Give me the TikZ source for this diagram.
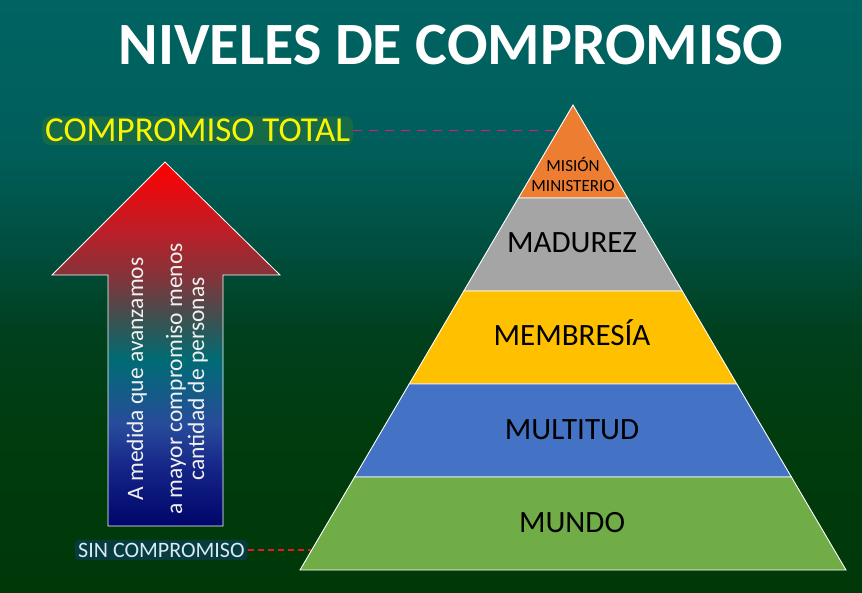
\documentclass[tikz,border=0pt]{standalone}
\usepackage{fontspec}
\setmainfont{Carlito}
\usetikzlibrary{calc}
\definecolor{bgtop}{RGB}{0,100,98}
\definecolor{bgup}{RGB}{0,94,90}
\definecolor{bgmid}{RGB}{0,78,62}
\definecolor{bglow}{RGB}{0,64,30}
\definecolor{bgb2}{RGB}{0,60,14}
\definecolor{bgbot}{RGB}{0,56,8}
\definecolor{lorange}{RGB}{237,125,49}
\definecolor{lgray}{RGB}{165,165,165}
\definecolor{lyel}{RGB}{255,192,0}
\definecolor{lblue}{RGB}{68,114,196}
\definecolor{lgreen}{RGB}{112,173,71}
\definecolor{ared}{RGB}{255,0,0}
\definecolor{ared2}{RGB}{190,30,40}
\definecolor{amaroon}{RGB}{130,52,58}
\definecolor{aslate}{RGB}{50,85,85}
\definecolor{ateal}{RGB}{0,108,116}
\definecolor{ablue}{RGB}{40,75,155}
\definecolor{ablue2}{RGB}{20,35,135}
\definecolor{anavy}{RGB}{0,5,105}
\definecolor{tyel}{RGB}{250,245,0}
\definecolor{tglow}{RGB}{110,150,0}
\definecolor{sglow}{RGB}{10,60,80}
\definecolor{stxt}{RGB}{215,235,245}
\definecolor{lmag}{RGB}{225,20,130}
\definecolor{lred}{RGB}{220,30,40}
\pgfdeclareverticalshading{bggrad}{100bp}{color(0bp)=(bgbot); color(25bp)=(bgbot); color(38.7bp)=(bgb2); color(47.2bp)=(bglow); color(53.9bp)=(bgmid); color(62.4bp)=(bgup); color(75bp)=(bgtop); color(100bp)=(bgtop)}
\pgfdeclareverticalshading{risegrad}{100bp}{color(0bp)=(anavy); color(25bp)=(anavy); color(32.7bp)=(ablue2); color(38.9bp)=(ablue); color(47.8bp)=(ateal); color(52.6bp)=(aslate); color(59.1bp)=(amaroon); color(65.7bp)=(ared2); color(75bp)=(ared); color(100bp)=(ared)}
\tikzset{
  lvl/.style={fill=#1,draw=white,line width=0.9pt},
  lvltxt/.style={font=\fontsize{31}{36}\selectfont,text=black,anchor=base,inner sep=0pt},
  arrtxt/.style={rotate=90,anchor=base,font=\fontsize{23.5}{28}\selectfont,text=white!94!black,inner sep=0pt},
  lead/.style={dash pattern=on 9pt off 7pt,line width=1.4pt,draw=#1},
}

\begin{document}
\begin{tikzpicture}[x=1pt,y=-1pt]
 \useasboundingbox (0,0) rectangle (862,593);
 \shade[shading=bggrad] (0,0) rectangle (862,593);
 \node[font=\fontsize{60}{66}\selectfont\bfseries,text=white,anchor=base] (title) at (451,65) {NIVELES DE COMPROMISO};
 % pyramid, apex (573,105)
 \foreach \col/\ya/\yb in {lorange/105/198,lgray/198/291,lyel/291/384,lblue/384/477,lgreen/477/570}
  \draw[lvl=\col] ({573-0.5871*(\ya-105)},\ya) -- ({573+0.5871*(\ya-105)},\ya) -- ({573+0.5871*(\yb-105)},\yb) -- ({573-0.5871*(\yb-105)},\yb) -- cycle;
 \node[lvltxt,font=\fontsize{17}{20}\selectfont,align=center] (mis) at (573,192) {MISIÓN\\MINISTERIO};
 \node[lvltxt] (mad) at (572,253) {MADUREZ};
 \node[lvltxt] (mem) at (572,346) {MEMBRESÍA};
 \node[lvltxt] (mul) at (572,439) {MULTITUD};
 \node[lvltxt] (mun) at (572,532) {MUNDO};
 \coordinate (topedge) at (558,131);
 \coordinate (botedge) at (311,549);
 % side labels
 \node[anchor=base west,font=\fontsize{35}{40}\selectfont,text=tyel,fill=tglow,fill opacity=0.2,text opacity=1,rounded corners=8pt,inner sep=3pt] (tot) at (42,142) {COMPROMISO TOTAL};
 \node[anchor=base west,font=\fontsize{22}{26}\selectfont,text=stxt,fill=sglow,fill opacity=0.75,text opacity=1,rounded corners=4pt,inner sep=3pt] (sin) at (75,557) {SIN COMPROMISO};
 \draw[lead=lmag] (tot.east) -- (tot.east -| topedge);
 \draw[lead=lred,dash pattern=on 6pt off 4pt] (sin.east) -- (sin.east -| botedge);
 % arrow
 \shadedraw[shading=risegrad,draw=white,line width=0.8pt] (165,162) -- (280,275) -- (223,275) -- (223,526) -- (108,526) -- (108,275) -- (52,275) -- cycle;
 \node[arrtxt] (a1) at (143,379) {A medida que avanzamos};
 \node[arrtxt] (a2) at (182,379) {a mayor compromiso menos};
 \node[arrtxt] (a3) at (204,379) {cantidad de personas};
\end{tikzpicture}
\end{document}
